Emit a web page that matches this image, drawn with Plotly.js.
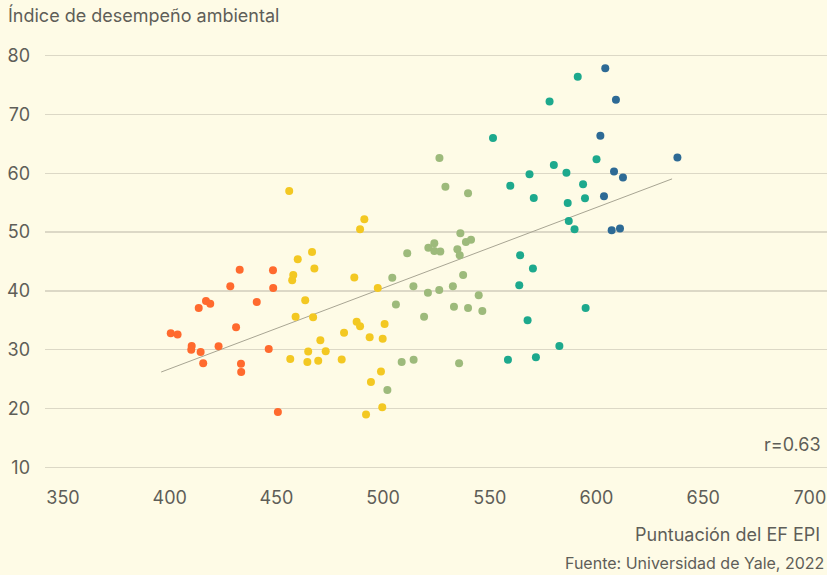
<!DOCTYPE html>
<html>
<head>
<meta charset="utf-8">
<script src="https://cdn.plot.ly/plotly-3.0.1.min.js"></script>
<style>
html,body{margin:0;padding:0;background:#FEFBE6;}
#chart{width:827px;height:575px;}
</style>
</head>
<body>
<div id="chart"></div>
<script>
// Orange group
const orangeX = [400.5,403.7,410.3,410.1,414.5,415.7,413.6,417.0,419.0,428.4,432.8,431.1,422.9,433.4,433.5,440.8,448.4,448.5,446.4,450.7];
const orangeY = [32.8,32.6,30.65,30.0,29.6,27.7,37.1,38.3,37.8,40.8,43.6,33.8,30.6,27.6,26.2,38.1,43.5,40.5,30.1,19.4];
// Yellow group
const yellowX = [460.0,466.7,467.8,457.9,457.4,463.5,459.0,467.2,481.7,470.6,464.9,473.1,456.5,464.5,469.6,480.6,456.0,491.2,489.2,486.5,497.5,487.6,489.2,500.7,493.7,499.8,499.0,494.3,499.6,492.0];
const yellowY = [45.4,46.6,43.8,42.7,41.8,38.4,35.6,35.5,32.9,31.6,29.7,29.75,28.4,27.9,28.1,28.35,57.0,52.2,50.5,42.3,40.5,34.75,34.0,34.35,32.1,31.85,26.3,24.5,20.2,19.0];
// Green group
const greenX = [526.4,529.2,539.8,536.2,524.0,521.2,524.0,526.8,538.8,541.2,534.8,535.9,511.3,504.3,537.5,514.2,521.0,526.3,532.7,544.8,506.0,533.2,539.8,546.5,519.2,508.7,514.3,535.6,502.0];
const greenY = [62.6,57.7,56.6,49.8,48.1,47.35,46.8,46.7,48.3,48.7,47.1,46.05,46.4,42.25,42.7,40.8,39.7,40.15,40.8,39.25,37.7,37.3,37.1,36.6,35.6,27.9,28.3,27.7,23.15];
// Teal group
const tealX = [591.2,578.0,551.5,580.0,568.6,585.9,600.0,559.6,593.7,570.6,594.6,586.5,587.0,589.7,564.2,570.2,563.8,594.9,567.7,582.6,558.5,571.6];
const tealY = [76.4,72.2,66.0,61.4,59.85,60.1,62.4,57.9,58.15,55.8,55.75,54.95,51.9,50.5,46.05,43.8,40.95,37.1,35.0,30.65,28.3,28.7];
// Dark blue group
const blueX = [604.1,609.1,601.8,608.2,612.4,603.5,607.1,611.0,637.9];
const blueY = [77.85,72.5,66.4,60.3,59.3,56.1,50.3,50.6,62.7];
// Trend line endpoints
const trendX = [396, 635.4];
const trendY = [26.2, 59.05];

const xTicks = [350,400,450,500,550,600,650,700];
const yTicks = [10,20,30,40,50,60,70,80];

const txt = '#5E5E58';
const fontFam = 'Inter, "Open Sans", sans-serif';

function grp(x, y, color){
  return {x:x, y:y, type:'scatter', mode:'markers', hoverinfo:'skip',
    marker:{color:color, size:8, line:{width:0}}, showlegend:false};
}

const data = [
  {x:trendX, y:trendY, type:'scatter', mode:'lines', line:{color:'#A8A593', width:1}, showlegend:false, hoverinfo:'skip'},
  grp(orangeX, orangeY, '#FF6A2E'),
  grp(yellowX, yellowY, '#F3C822'),
  grp(greenX, greenY, '#9DBA7B'),
  grp(tealX, tealY, '#1DA98D'),
  grp(blueX, blueY, '#2D6A95')
];

const layout = {
  width:827, height:575,
  paper_bgcolor:'#FEFBE6', plot_bgcolor:'#FEFBE6',
  margin:{l:45, r:0, t:41, b:93},
  font:{family:fontFam, color:txt, size:18},
  xaxis:{range:[341.57,708.0], tickvals:xTicks, ticktext:xTicks.map(String),
    showgrid:false, zeroline:false, showline:false, ticks:'', ticklabelstandoff:3,
    tickfont:{size:18, color:txt, family:fontFam}, fixedrange:true},
  yaxis:{range:[7.5,82.5], tickvals:yTicks, ticktext:yTicks.map(String),
    showgrid:true, gridcolor:'#DCD8C6', gridwidth:1.5, zeroline:false, showline:false, ticks:'',
    ticklabelstandoff:14, tickfont:{size:18, color:txt, family:fontFam}, fixedrange:true},
  annotations:[
    {text:'Índice de desempeño ambiental', xref:'paper', yref:'paper', x:-39/782, y:(575-15-93)/441, xanchor:'left', yanchor:'middle', showarrow:false, font:{size:18, color:txt, family:fontFam}},
    {text:'r=0.63', xref:'paper', yref:'paper', x:1-4/782, y:(575-444-93)/441, xanchor:'right', yanchor:'middle', showarrow:false, font:{size:18, color:txt, family:fontFam}},
    {text:'Puntuación del EF EPI', xref:'paper', yref:'paper', x:1-5/782, y:(575-534-93)/441, xanchor:'right', yanchor:'middle', showarrow:false, font:{size:18, color:txt, family:fontFam}},
    {text:'Fuente: Universidad de Yale, 2022', xref:'paper', yref:'paper', x:1-1/782, y:(575-563-93)/441, xanchor:'right', yanchor:'middle', showarrow:false, font:{size:16, color:txt, family:fontFam}}
  ]
};

Plotly.newPlot('chart', data, layout, {displayModeBar:false, staticPlot:true});
</script>
</body>
</html>
